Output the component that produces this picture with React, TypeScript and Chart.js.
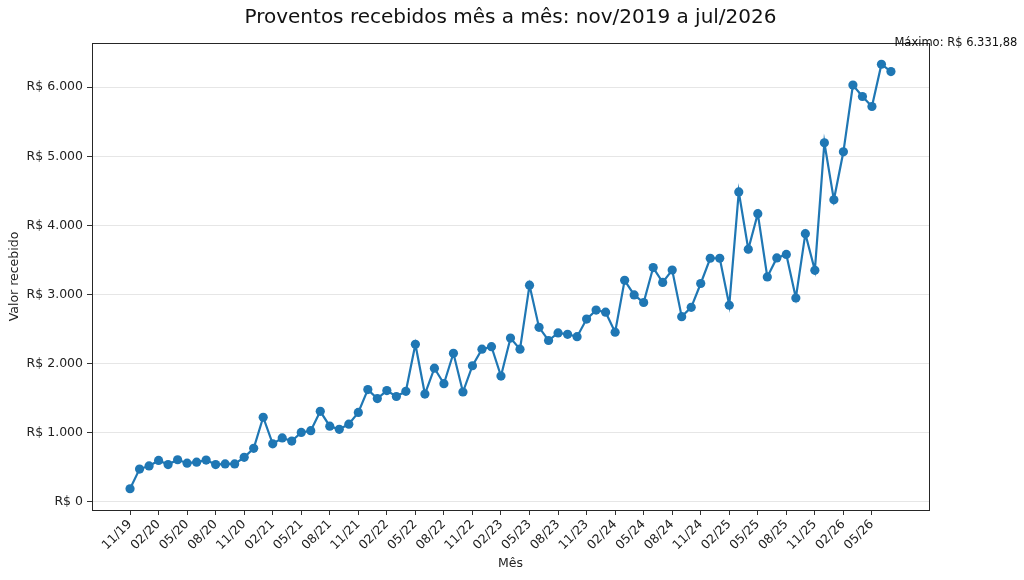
import React, { useEffect, useRef } from "react";
import Chart from "chart.js/auto";

const months = [
  "11/19", "12/19",
  "01/20", "02/20", "03/20", "04/20", "05/20", "06/20", "07/20", "08/20", "09/20", "10/20", "11/20", "12/20",
  "01/21", "02/21", "03/21", "04/21", "05/21", "06/21", "07/21", "08/21", "09/21", "10/21", "11/21", "12/21",
  "01/22", "02/22", "03/22", "04/22", "05/22", "06/22", "07/22", "08/22", "09/22", "10/22", "11/22", "12/22",
  "01/23", "02/23", "03/23", "04/23", "05/23", "06/23", "07/23", "08/23", "09/23", "10/23", "11/23", "12/23",
  "01/24", "02/24", "03/24", "04/24", "05/24", "06/24", "07/24", "08/24", "09/24", "10/24", "11/24", "12/24",
  "01/25", "02/25", "03/25", "04/25", "05/25", "06/25", "07/25", "08/25", "09/25", "10/25", "11/25", "12/25",
  "01/26", "02/26", "03/26", "04/26", "05/26", "06/26", "07/26",
];

const values = [
  190, 475,
  520, 600, 540, 610, 560, 575, 605, 540, 550, 550, 645, 775,
  1225, 840, 925, 880, 1005, 1030, 1310, 1095, 1050, 1125, 1295, 1625,
  1495, 1610, 1525, 1600, 2280, 1560, 1935, 1710, 2150, 1590, 1970, 2210,
  2245, 1820, 2370, 2210, 3135, 2525, 2335, 2445, 2425, 2390, 2645, 2775,
  2745, 2455, 3205, 2995, 2885, 3390, 3175, 3355, 2680, 2815, 3160, 3525,
  3525, 2845, 4485, 3655, 4170, 3255, 3530, 3580, 2950, 3880, 3350, 5195,
  4370, 5065, 6030, 5865, 5720, 6331.88, 6225,
];

const xTickLabels = [
  "11/19", "02/20", "05/20", "08/20", "11/20", "02/21", "05/21", "08/21", "11/21",
  "02/22", "05/22", "08/22", "11/22", "02/23", "05/23", "08/23", "11/23",
  "02/24", "05/24", "08/24", "11/24", "02/25", "05/25", "08/25", "11/25", "02/26", "05/26",
];

const yTicks = [0, 1000, 2000, 3000, 4000, 5000, 6000];

const TITLE = "Proventos recebidos mês a mês: nov/2019 a jul/2026";
const FONT = "'DejaVu Sans', sans-serif";
const BLUE = "#1f77b4";

// R$ com separador de milhar "." e decimal ","
const brl = (v: number, dec = 0) => {
  const [i, d] = v.toFixed(dec).split(".");
  const int = i.replace(/\B(?=(\d{3})+(?!\d))/g, ".");
  return "R$ " + (d ? int + "," + d : int);
};

const App: React.FC = () => {
  const chartRef = useRef<HTMLCanvasElement | null>(null);
  const chartInstance = useRef<Chart | null>(null);

  useEffect(() => {
    if (!chartRef.current) return;
    if (chartInstance.current) chartInstance.current.destroy();

    const vMin = Math.min(...values);
    const vMax = Math.max(...values);
    const pad = (vMax - vMin) * 0.05;
    const xPad = (values.length - 1) * 0.05;
    const maxIdx = values.indexOf(vMax);

    const framePlugin = {
      id: "frame",
      afterDraw(chart: any) {
        const { ctx, chartArea: a, scales } = chart;
        ctx.save();
        ctx.strokeStyle = "#262626";
        ctx.lineWidth = 1;
        ctx.strokeRect(Math.round(a.left) + 0.5, Math.round(a.top) + 0.5, Math.round(a.right - a.left), Math.round(a.bottom - a.top));

        ctx.fillStyle = "#111";
        ctx.font = `20px ${FONT}`;
        ctx.textAlign = "center";
        ctx.textBaseline = "middle";
        ctx.fillText(TITLE, (a.left + a.right) / 2, 18);

        const px = scales.x.getPixelForValue(maxIdx);
        const py = scales.y.getPixelForValue(vMax);
        ctx.font = `11.5px ${FONT}`;
        ctx.textAlign = "left";
        ctx.textBaseline = "alphabetic";
        ctx.fillText("Máximo: " + brl(vMax, 2), px + 13, py - 18);
        ctx.restore();
      },
    };

    chartInstance.current = new Chart(chartRef.current, {
      type: "line",
      data: {
        datasets: [
          {
            data: values.map((v, i) => ({ x: i, y: v })),
            borderColor: BLUE,
            backgroundColor: BLUE,
            borderWidth: 2.2,
            pointRadius: 4.6,
            pointBorderWidth: 0,
            pointBackgroundColor: BLUE,
            tension: 0,
          },
        ],
      },
      options: {
        responsive: false,
        animation: false,
        layout: { padding: { top: 43, right: 95, bottom: 0, left: 0 } },
        plugins: {
          legend: { display: false },
          tooltip: { enabled: false },
          title: { display: false },
        },
        scales: {
          x: {
            type: "linear",
            min: -xPad,
            max: values.length - 1 + xPad,
            afterBuildTicks: (s: any) => {
              s.ticks = xTickLabels.map((l) => ({ value: months.indexOf(l) }));
            },
            afterFit: (s: any) => {
              s.height = 70;
            },
            ticks: {
              autoSkip: false,
              minRotation: 45,
              maxRotation: 45,
              padding: 2,
              color: "#222",
              font: { family: FONT, size: 12.5 },
              callback: (v: any) => months[v as number],
            },
            grid: { drawOnChartArea: false, drawTicks: true, tickLength: 5, tickColor: "#333" },
            border: { color: "#333" },
            title: {
              display: true,
              text: "Mês",
              color: "#222",
              font: { family: FONT, size: 12.5 },
              padding: { top: 0, bottom: 9 },
            },
          },
          y: {
            min: vMin - pad,
            max: vMax + pad,
            afterBuildTicks: (s: any) => {
              s.ticks = yTicks.map((v) => ({ value: v }));
            },
            afterFit: (s: any) => {
              s.width = 92;
            },
            ticks: {
              padding: 4,
              color: "#222",
              font: { family: FONT, size: 12.5 },
              callback: (v: any) => brl(v as number),
            },
            grid: { color: "#e6e6e6", drawTicks: true, tickLength: 5, tickColor: "#333" },
            border: { color: "#333" },
            title: {
              display: true,
              text: "Valor recebido",
              color: "#222",
              font: { family: FONT, size: 12.5 },
              padding: { top: 7, bottom: 0 },
            },
          },
        },
      },
      plugins: [framePlugin],
    });

    return () => {
      if (chartInstance.current) {
        chartInstance.current.destroy();
        chartInstance.current = null;
      }
    };
  }, []);

  return (
    <div style={{ position: "fixed", left: 0, top: 0, width: 1024, height: 580, background: "#fff" }}>
      <canvas ref={chartRef} width={1024} height={580} style={{ display: "block" }}></canvas>
    </div>
  );
};

export default App;
